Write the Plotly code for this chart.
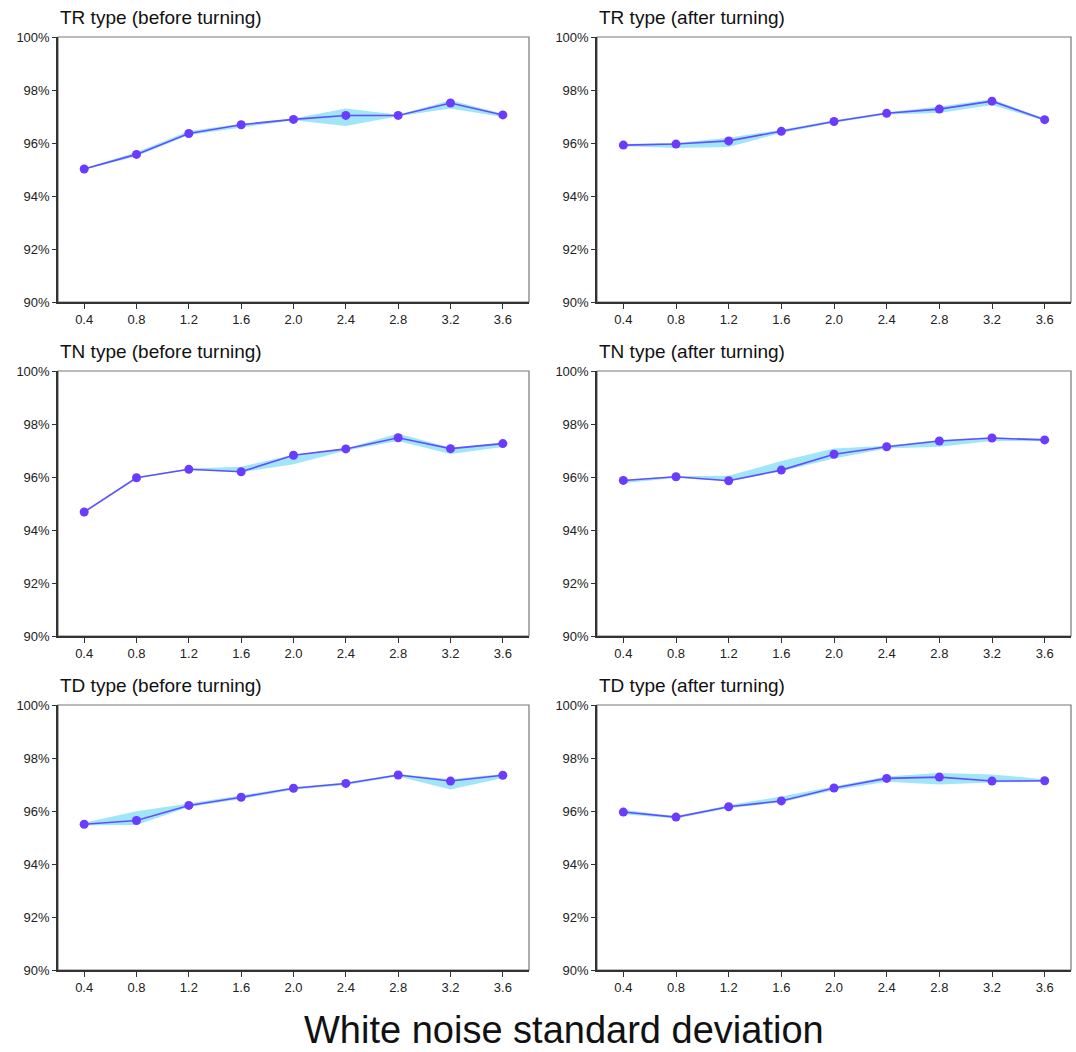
import plotly.graph_objects as go

noise_sd = [0.4, 0.8, 1.2, 1.6, 2.0, 2.4, 2.8, 3.2, 3.6]
x_ticks = [0.4, 0.8, 1.2, 1.6, 2.0, 2.4, 2.8, 3.2, 3.6]
x_tick_labels = ["0.4", "0.8", "1.2", "1.6", "2.0", "2.4", "2.8", "3.2", "3.6"]
y_ticks = [90, 92, 94, 96, 98, 100]
y_tick_labels = ["90%", "92%", "94%", "96%", "98%", "100%"]

titles = [
    "TR type (before turning)", "TR type (after turning)",
    "TN type (before turning)", "TN type (after turning)",
    "TD type (before turning)", "TD type (after turning)",
]

tr_before = [95.02, 95.57, 96.36, 96.69, 96.89, 97.04, 97.04, 97.51, 97.06]
tr_before_lo = [94.99, 95.50, 96.30, 96.57, 96.86, 96.64, 97.01, 97.30, 96.98]
tr_before_hi = [95.05, 95.65, 96.45, 96.73, 96.92, 97.30, 97.07, 97.61, 97.10]

tr_after = [95.92, 95.96, 96.08, 96.44, 96.81, 97.12, 97.28, 97.58, 96.88]
tr_after_lo = [95.88, 95.81, 95.85, 96.38, 96.76, 97.08, 97.13, 97.43, 96.84]
tr_after_hi = [95.96, 96.00, 96.20, 96.50, 96.86, 97.16, 97.38, 97.65, 96.92]

tn_before = [94.68, 95.97, 96.29, 96.20, 96.82, 97.06, 97.48, 97.07, 97.26]
tn_before_lo = [94.65, 95.94, 96.26, 96.18, 96.48, 97.00, 97.36, 96.87, 97.13]
tn_before_hi = [94.71, 96.00, 96.32, 96.39, 96.84, 97.08, 97.64, 97.10, 97.30]

tn_after = [95.87, 96.01, 95.86, 96.26, 96.86, 97.14, 97.36, 97.47, 97.40]
tn_after_lo = [95.76, 95.97, 95.84, 96.22, 96.70, 97.08, 97.14, 97.36, 97.35]
tn_after_hi = [95.90, 96.03, 96.05, 96.60, 97.08, 97.18, 97.40, 97.50, 97.43]

td_before = [95.50, 95.64, 96.21, 96.52, 96.86, 97.04, 97.36, 97.13, 97.35]
td_before_lo = [95.46, 95.47, 96.15, 96.45, 96.80, 96.98, 97.30, 96.81, 97.25]
td_before_hi = [95.56, 95.99, 96.28, 96.60, 96.90, 97.08, 97.40, 97.20, 97.40]

td_after = [95.96, 95.77, 96.16, 96.38, 96.87, 97.23, 97.28, 97.13, 97.14]
td_after_lo = [95.88, 95.72, 96.10, 96.33, 96.78, 97.10, 97.00, 97.08, 97.10]
td_after_hi = [96.05, 95.80, 96.22, 96.55, 96.92, 97.30, 97.43, 97.38, 97.20]

series = [
    (tr_before, tr_before_lo, tr_before_hi), (tr_after, tr_after_lo, tr_after_hi),
    (tn_before, tn_before_lo, tn_before_hi), (tn_after, tn_after_lo, tn_after_hi),
    (td_before, td_before_lo, td_before_hi), (td_after, td_after_lo, td_after_hi),
]

W, H = 1076, 1052
x_doms = [(58, 529), (597, 1071)]
y_doms = [(37, 302), (371, 636), (705, 970)]

BAND = "rgba(110,215,245,0.65)"
LINE = "rgb(95,80,255)"
MARK = "rgb(105,60,255)"
FONT = "Liberation Sans, Arial, sans-serif"

fig = go.Figure()
layout = dict(
    template="none",
    width=W, height=H,
    margin=dict(l=0, r=0, t=0, b=0, pad=0),
    paper_bgcolor="white", plot_bgcolor="white",
    showlegend=False,
    font=dict(family=FONT, color="#222"),
    annotations=[], shapes=[],
)

for i, (vals, lo, hi) in enumerate(series):
    r, c = divmod(i, 2)
    n = i + 1
    xa = "x" if n == 1 else f"x{n}"
    ya = "y" if n == 1 else f"y{n}"
    fig.add_trace(go.Scatter(x=noise_sd, y=hi, mode="lines", line=dict(width=0, color=BAND),
                             xaxis=xa, yaxis=ya, hoverinfo="skip"))
    fig.add_trace(go.Scatter(x=noise_sd, y=lo, mode="lines", line=dict(width=0, color=BAND),
                             fill="tonexty", fillcolor=BAND, xaxis=xa, yaxis=ya, hoverinfo="skip"))
    fig.add_trace(go.Scatter(x=noise_sd, y=vals, mode="lines+markers",
                             line=dict(color=LINE, width=1.6),
                             marker=dict(color=MARK, size=9, line=dict(width=0)),
                             xaxis=xa, yaxis=ya))
    x0, x1 = x_doms[c]
    y0, y1 = y_doms[r]
    xkey = "xaxis" if n == 1 else f"xaxis{n}"
    ykey = "yaxis" if n == 1 else f"yaxis{n}"
    layout[xkey] = dict(
        domain=[x0 / W, x1 / W], anchor=ya, range=[0.2, 3.8], automargin=False,
        tickmode="array", tickvals=x_ticks, ticktext=x_tick_labels,
        ticks="outside", ticklen=5, tickwidth=1,
        tickcolor="#333", showline=True, linecolor="#333", linewidth=1.5,
        showgrid=False, zeroline=False, tickfont=dict(size=13, family=FONT, color="#222"),
    )
    layout[ykey] = dict(
        domain=[1 - y1 / H, 1 - y0 / H], anchor=xa, range=[90, 100], automargin=False,
        tickmode="array", tickvals=y_ticks, ticktext=y_tick_labels,
        ticks="outside", ticklen=4, tickwidth=1,
        tickcolor="#333", showline=True, linecolor="#333", linewidth=1.5,
        showgrid=False, zeroline=False, tickfont=dict(size=13, family=FONT, color="#222"),
    )
    layout["shapes"].append(dict(
        type="rect", xref="paper", yref="paper", layer="below",
        x0=x0 / W, x1=x1 / W, y0=1 - y1 / H, y1=1 - y0 / H,
        line=dict(color="#777", width=1.2), fillcolor="rgba(0,0,0,0)",
    ))
    layout["annotations"].append(dict(
        text=titles[i], xref="paper", yref="paper",
        x=x0 / W, y=1 - (y0 - 20) / H, xanchor="left", yanchor="middle",
        showarrow=False, font=dict(size=19, family=FONT, color="#111"),
    ))

layout["annotations"].append(dict(
    text="White noise standard deviation", xref="paper", yref="paper",
    x=564 / W, y=1 - 1030 / H, xanchor="center", yanchor="middle",
    showarrow=False, font=dict(size=38, family=FONT, color="#111"),
))

fig.update_layout(**layout)
fig.write_html("out.html")
